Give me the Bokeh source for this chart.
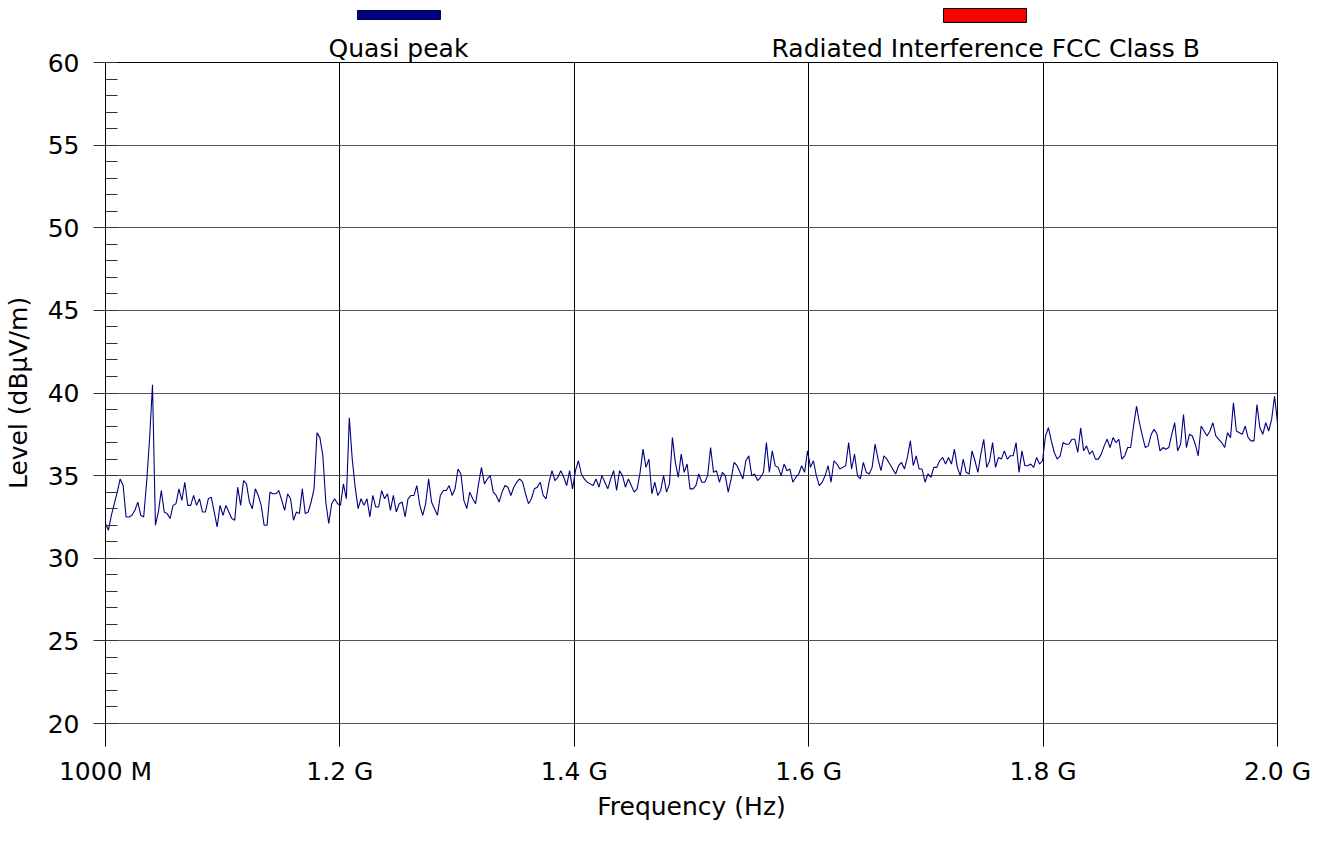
import numpy as np
from bokeh.plotting import figure
from bokeh.layouts import column
from bokeh.models import FixedTicker, Range1d, LinearAxis
from bokeh.embed import file_html
from bokeh.resources import INLINE

# Quasi-peak level readings (dBµV/m), swept 1000 MHz -> 2000 MHz
level_1000_1200 = [32.1, 31.7, 32.6, 33.3, 34.0, 34.8, 34.4, 32.5, 32.5, 32.6,
                   32.9, 33.4, 32.6, 32.5, 34.6, 37.2, 40.5, 32.0, 32.8, 34.1,
                   32.8, 32.7, 32.4, 33.2, 33.3, 34.2, 33.5, 34.6, 33.2, 33.2,
                   33.8, 33.2, 33.6, 32.8, 32.8, 33.6, 33.7, 32.8, 31.9, 33.2,
                   32.6, 33.2, 32.8, 32.4, 32.3, 34.3, 33.2, 34.7, 34.5, 33.4,
                   33.0, 34.2, 33.8, 33.2, 32.0, 32.0, 34.0, 33.9, 33.9, 34.1,
                   33.5, 32.9, 33.9, 33.6, 32.3, 32.8, 32.7, 34.2, 32.7, 32.8,
                   33.4, 34.2, 37.6, 37.3, 36.2, 33.4, 32.1, 33.3, 33.6, 33.3, 33.2]
level_1200_1400 = [34.5, 33.6, 38.5, 36.0, 34.3, 33.0, 33.6, 33.2, 33.6, 32.5,
                   33.8, 33.1, 33.1, 34.1, 33.6, 33.9, 32.9, 33.8, 32.8, 33.3,
                   33.4, 32.5, 33.6, 33.8, 33.8, 34.4, 33.2, 32.6, 33.3, 34.8,
                   33.4, 33.0, 32.6, 33.8, 34.1, 34.1, 34.4, 33.8, 34.2, 35.4,
                   35.1, 33.5, 33.0, 34.0, 33.6, 33.3, 34.5, 35.5, 34.5, 34.8,
                   35.0, 34.0, 33.8, 33.4, 34.0, 34.4, 34.3, 33.8, 34.3, 34.6,
                   34.8, 34.6, 33.9, 33.3, 33.6, 34.2, 34.3, 34.6, 33.8, 33.6,
                   34.6, 35.3, 34.7, 34.9, 35.3, 34.9, 34.4, 35.3]
level_1400_1600 = [34.2, 35.3, 35.9, 35.1, 34.8, 34.6, 34.5, 34.4, 34.8, 34.3,
                   35.0, 34.6, 34.2, 34.8, 35.3, 34.1, 35.3, 35.0, 34.3, 34.8,
                   34.4, 34.0, 34.2, 35.2, 36.6, 35.5, 36.0, 33.9, 34.6, 33.8,
                   34.1, 35.0, 34.0, 34.5, 37.3, 35.8, 34.9, 36.3, 35.2, 35.7,
                   34.2, 34.2, 34.4, 35.1, 34.6, 34.6, 35.0, 36.7, 35.2, 35.3,
                   34.6, 35.2, 35.0, 34.0, 34.8, 35.8, 35.6, 35.2, 34.8, 35.9,
                   36.2, 35.0, 35.1, 34.7, 34.9, 35.2, 37.0, 35.2, 36.5, 35.6,
                   35.5, 35.0, 35.7, 35.3, 35.4, 34.6, 34.9, 35.1, 35.6, 35.2]
level_1600_1800 = [36.5, 35.5, 35.9, 35.0, 34.4, 34.6, 35.0, 35.6, 34.6, 35.9,
                   35.7, 35.4, 35.5, 35.6, 37.0, 35.4, 36.3, 35.0, 34.8, 35.8,
                   35.2, 35.1, 35.5, 36.9, 36.0, 35.3, 36.2, 36.0, 35.7, 35.4,
                   35.1, 35.6, 35.8, 35.4, 36.1, 37.1, 35.6, 36.2, 35.4, 35.4,
                   34.6, 35.1, 34.9, 35.5, 35.5, 35.9, 36.1, 35.7, 36.1, 35.7,
                   36.6, 35.5, 35.0, 36.0, 35.2, 35.1, 36.5, 35.9, 35.2, 36.3,
                   37.2, 35.5, 35.9, 37.0, 35.5, 36.1, 36.0, 36.5, 36.0, 36.2,
                   36.2, 37.0, 35.2, 36.5, 35.6, 35.6, 35.7, 35.5, 36.1, 35.7]
level_1800_2000 = [35.9, 37.4, 37.9, 37.1, 36.4, 36.0, 36.2, 37.0, 36.9, 36.9,
                   37.2, 37.2, 36.4, 37.9, 36.5, 36.8, 36.3, 36.5, 36.0, 36.0,
                   36.3, 36.8, 37.2, 36.7, 37.3, 37.0, 37.2, 36.0, 36.2, 36.7,
                   36.7, 38.0, 39.2, 38.2, 37.4, 36.7, 36.8, 37.5, 37.8, 37.5,
                   36.5, 36.7, 36.6, 36.7, 37.5, 38.2, 36.5, 36.9, 38.7, 36.7,
                   37.5, 37.4, 36.9, 36.2, 38.0, 37.7, 37.4, 37.7, 38.2, 37.4,
                   37.2, 37.0, 36.7, 37.6, 37.3, 39.4, 37.7, 37.6, 37.5, 38.0,
                   37.3, 37.1, 37.1, 39.3, 37.9, 37.5, 38.2, 37.7, 38.4, 39.8, 38.2]

level = level_1000_1200 + level_1200_1400 + level_1400_1600 + level_1600_1800 + level_1800_2000
freq_start_mhz = 1000
freq_stop_mhz = 2000
freq_mhz = np.linspace(freq_start_mhz, freq_stop_mhz, len(level))

x_ticks = [1000, 1200, 1400, 1600, 1800, 2000]
x_tick_labels = ["1000 M", "1.2 G", "1.4 G", "1.6 G", "1.8 G", "2.0 G"]
y_ticks = [20, 25, 30, 35, 40, 45, 50, 55, 60]
y_minor_ticks = [v for v in range(21, 60) if v % 5 != 0]

series_names = ["Quasi peak", "Radiated Interference FCC Class B"]
series_colors = ["#000080", "#FF0000"]
series_border = ["#000040", "black"]

# legend geometry (style only)
legend_centers = [1250, 1751]
swatch_left = [1215.0, 1715.0]
swatch_right = [1285.8, 1785.8]
swatch_top_px = [10, 8]
swatch_bottom_px = [19, 22]

FONT = "DejaVu Sans"
FS = "25px"
W_FRAME, H_FRAME = 1172, 661
B_LEFT, B_RIGHT = 97, 43
LEG_H = 30

# ---------- legend strip (swatches) ----------
leg = figure(output_backend="svg", toolbar_location=None,
             frame_width=W_FRAME, frame_height=LEG_H,
             min_border_left=B_LEFT, min_border_right=B_RIGHT,
             min_border_top=0, min_border_bottom=0,
             x_range=Range1d(freq_start_mhz, freq_stop_mhz), y_range=Range1d(LEG_H, 0))
leg.axis.visible = False
leg.grid.visible = False
leg.outline_line_color = None
leg.background_fill_color = "white"
leg.border_fill_color = "white"
leg.quad(left=swatch_left, right=swatch_right, top=swatch_top_px, bottom=swatch_bottom_px,
         fill_color=series_colors, line_color=series_border, line_width=1)

# ---------- main chart ----------
p = figure(output_backend="svg", toolbar_location=None,
           frame_width=W_FRAME, frame_height=H_FRAME,
           min_border_left=B_LEFT, min_border_top=30, min_border_right=B_RIGHT,
           min_border_bottom=100,
           x_range=Range1d(freq_start_mhz, freq_stop_mhz), y_range=Range1d(20, 60))
p.background_fill_color = "white"
p.border_fill_color = "white"
p.outline_line_color = "black"
p.outline_line_width = 1

p.line(freq_mhz, level, line_color=series_colors[0], line_width=1.1)

xax = p.below[0]
yax = p.left[0]

# legend labels as an axis above the frame
legend_axis = LinearAxis(ticker=FixedTicker(ticks=legend_centers),
                         major_label_overrides={c: n for c, n in zip(legend_centers, series_names)})
legend_axis.axis_line_color = None
legend_axis.major_tick_line_color = None
legend_axis.minor_tick_line_color = None
legend_axis.major_tick_out = 0
legend_axis.major_tick_in = 0
legend_axis.major_label_standoff = 0
legend_axis.major_label_text_font = FONT
legend_axis.major_label_text_font_size = FS
legend_axis.major_label_text_color = "black"
p.add_layout(legend_axis, "above")

# axes
xax.ticker = FixedTicker(ticks=x_ticks)
xax.major_label_overrides = {t: l for t, l in zip(x_ticks, x_tick_labels)}
yax.ticker = FixedTicker(ticks=y_ticks, minor_ticks=y_minor_ticks)

for ax in (xax, yax):
    ax.major_label_text_font = FONT
    ax.major_label_text_font_size = FS
    ax.major_label_text_color = "black"
    ax.axis_label_text_font = FONT
    ax.axis_label_text_font_size = FS
    ax.axis_label_text_font_style = "normal"
    ax.axis_label_text_color = "black"

xax.axis_label = "Frequency (Hz)"
yax.axis_label = "Level (dBµV/m)"

xax.axis_line_color = "#555555"
xax.major_tick_line_color = "black"
xax.major_tick_out = 23
xax.major_tick_in = 0
xax.minor_tick_line_color = None
xax.major_label_standoff = 10
xax.axis_label_standoff = 3

yax.axis_line_color = "black"
yax.major_tick_line_color = "#333333"
yax.major_tick_out = 12
yax.major_tick_in = 12
yax.minor_tick_line_color = "#333333"
yax.minor_tick_in = 12
yax.minor_tick_out = 0
yax.major_label_standoff = 14
yax.axis_label_standoff = 12

p.xgrid.grid_line_color = "black"
p.xgrid.grid_line_width = 1
p.ygrid.grid_line_color = "#555555"
p.ygrid.grid_line_width = 1

layout = column(leg, p, spacing=0)
open("out.html", "w").write(file_html(layout, INLINE))
